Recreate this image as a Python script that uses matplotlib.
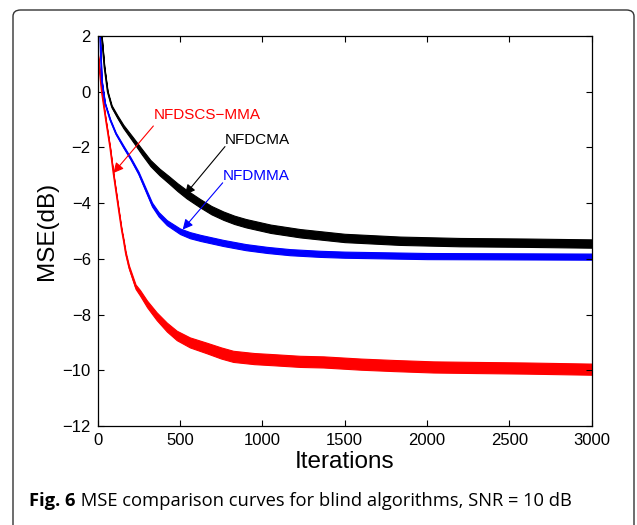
import matplotlib
matplotlib.use("Agg")
import matplotlib.pyplot as plt
from matplotlib.patches import FancyBboxPatch
import numpy as np

# ---- data ----
red_iter = [0, 24, 50, 75, 95, 125, 145, 156, 170, 190, 210, 230, 257, 300, 358, 420,
            480, 560, 662, 750, 823, 950, 1066, 1229, 1370, 1600, 1800, 2038, 2300,
            2600, 2800, 3000]
red_mse = [1.44, 0.0, -1.05, -2.0, -2.92, -4.15, -4.95, -5.3, -5.8, -6.3, -6.65, -7.0,
           -7.22, -7.62, -8.06, -8.45, -8.75, -9.0, -9.2, -9.38, -9.5, -9.58, -9.62,
           -9.68, -9.7, -9.78, -9.83, -9.88, -9.9, -9.92, -9.94, -9.96]
red_spread = [0.02, 0.02, 0.02, 0.02, 0.02, 0.03, 0.03, 0.04, 0.05, 0.06, 0.07, 0.08,
              0.1, 0.12, 0.14, 0.16, 0.17, 0.18, 0.19, 0.2, 0.2, 0.2, 0.2, 0.2, 0.2,
              0.2, 0.2, 0.2, 0.2, 0.2, 0.2, 0.2]

black_iter = [10, 24, 40, 60, 85, 120, 156, 216, 270, 320, 375, 430, 485, 540, 621, 690,
              763, 830, 900, 1050, 1229, 1500, 1837, 2200, 2600, 3000]
black_mse = [4.0, 2.0, 0.9, 0.0, -0.53, -0.9, -1.25, -1.73, -2.17, -2.56, -2.88, -3.15,
             -3.43, -3.68, -4.0, -4.25, -4.45, -4.6, -4.72, -4.92, -5.08, -5.25, -5.35,
             -5.4, -5.42, -5.45]
black_spread = [0.02, 0.02, 0.03, 0.03, 0.04, 0.05, 0.06, 0.08, 0.1, 0.11, 0.12, 0.13,
                0.14, 0.15, 0.15, 0.15, 0.15, 0.15, 0.15, 0.15, 0.15, 0.15, 0.15, 0.15,
                0.15, 0.15]

blue_iter = [5, 14, 24, 44, 75, 110, 156, 200, 248, 290, 330, 370, 420, 500, 560, 625,
             763, 900, 1030, 1168, 1350, 1500, 2000, 2500, 3000]
blue_mse = [4.0, 2.0, 0.42, -0.41, -1.0, -1.5, -1.97, -2.4, -2.92, -3.5, -4.05, -4.4,
            -4.7, -5.01, -5.15, -5.25, -5.43, -5.58, -5.68, -5.76, -5.82, -5.85, -5.9,
            -5.91, -5.92]
blue_spread = [0.02, 0.02, 0.02, 0.02, 0.03, 0.03, 0.04, 0.04, 0.05, 0.06, 0.07, 0.08,
               0.09, 0.1, 0.11, 0.11, 0.11, 0.11, 0.11, 0.11, 0.11, 0.11, 0.11, 0.11,
               0.11]

x_ticks = [0, 500, 1000, 1500, 2000, 2500, 3000]
y_ticks = [2, 0, -2, -4, -6, -8, -10, -12]

caption_bold = "Fig. 6"
caption_rest = " MSE comparison curves for blind algorithms, SNR = 10 dB"

# ---- figure ----
W, H = 637, 525
fig = plt.figure(figsize=(W / 100, H / 100), dpi=100)

# rounded frame
frame = FancyBboxPatch((13 / W, -20 / H), (634 - 13) / W, (525 - 10 + 20) / H,
                       boxstyle="round,pad=0,rounding_size=0.012",
                       transform=fig.transFigure, fill=False, lw=1.0,
                       edgecolor="#333333", clip_on=False)
fig.patches.append(frame)

ax = fig.add_axes([97.7 / W, 1 - 426 / H, (591.7 - 97.7) / W, (426 - 36) / H])

font = "Liberation Sans"

def band(ax, xs, ys, sp, color):
    xs = np.asarray(xs, float)
    ys = np.asarray(ys, float)
    sp = np.asarray(sp, float)
    ax.fill_between(xs, ys - sp, ys + sp, facecolor=color, edgecolor=color, lw=0.8)
    ax.plot(xs, ys, color=color, lw=1.1)

band(ax, red_iter, red_mse, red_spread, "#ff0000")
band(ax, black_iter, black_mse, black_spread, "#000000")
band(ax, blue_iter, blue_mse, blue_spread, "#0000ff")

ax.set_xlim(0, 3000)
ax.set_ylim(-12, 2)
ax.set_xticks(x_ticks)
ax.set_yticks(y_ticks)
ax.set_xticklabels([str(t) for t in x_ticks], fontfamily=font, fontsize=12)
ax.set_yticklabels([("\u2212" + str(-t)) if t < 0 else str(t) for t in y_ticks],
                   fontfamily=font, fontsize=12)
ax.tick_params(direction="in", top=True, right=True, length=4, width=0.8, pad=5)
for s in ax.spines.values():
    s.set_linewidth(0.9)

ax.set_xlabel("Iterations", fontfamily=font, fontsize=17.5, labelpad=2)
ax.set_ylabel("MSE(dB)", fontfamily=font, fontsize=17.5, labelpad=3)

arrow_kw = dict(arrowstyle="-|>", mutation_scale=15, lw=0.8, shrinkA=0, shrinkB=0)
ax.annotate("", xy=(95, -2.92), xytext=(338, -1.23),
            arrowprops=dict(color="#ff0000", **arrow_kw))
ax.text(338, -0.85, "NFDSCS\u2212MMA", color="#ff0000", fontfamily=font, fontsize=11,
        ha="left", va="center")
ax.annotate("", xy=(530, -3.70), xytext=(773, -1.97),
            arrowprops=dict(color="#000000", **arrow_kw))
ax.text(773, -1.72, "NFDCMA", color="#000000", fontfamily=font, fontsize=11,
        ha="left", va="center")
ax.annotate("", xy=(516, -4.95), xytext=(759, -3.27),
            arrowprops=dict(color="#0000ff", **arrow_kw))
ax.text(759, -3.02, "NFDMMA", color="#0000ff", fontfamily=font, fontsize=11,
        ha="left", va="center")

# caption
t1 = fig.text(29 / W, 1 - 501 / H, caption_bold, fontfamily="Open Sans",
              fontweight="bold", fontsize=13.2, ha="left", va="center")
fig.canvas.draw()
bb = t1.get_window_extent(renderer=fig.canvas.get_renderer())
fig.text(bb.x1 / W, 1 - 501 / H, caption_rest, fontfamily="Open Sans",
         fontsize=13.2, ha="left", va="center")

fig.savefig("out.png", dpi=100)
